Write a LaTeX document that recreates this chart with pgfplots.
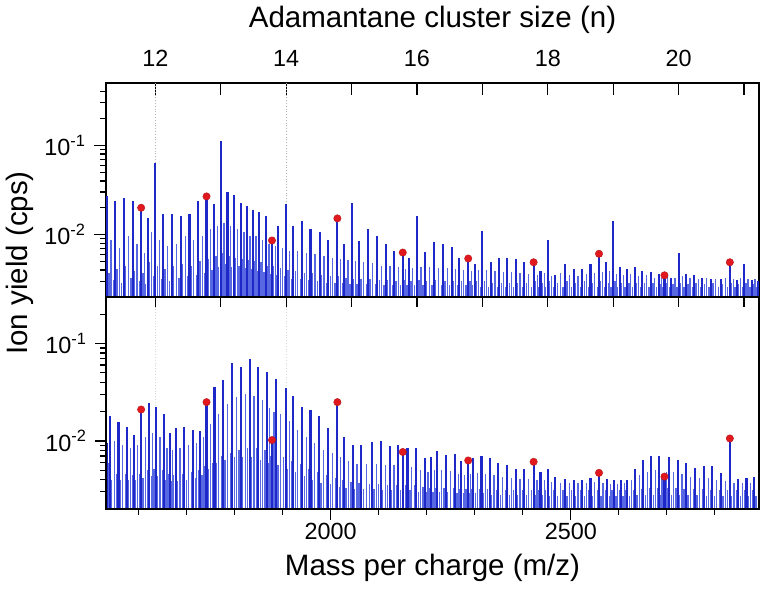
\documentclass[border=0pt]{standalone}
\usepackage{pgfplots}
\pgfplotsset{compat=1.18}
\usepackage{pgfplotstable}
\usepackage{fontspec}
\setmainfont{Liberation Sans}
\definecolor{dkblue}{RGB}{30,40,200}
\definecolor{ltblue}{RGB}{88,104,226}
\definecolor{dotred}{RGB}{225,25,30}
\newcommand{\ticksize}{\fontsize{23.4}{28}\selectfont}
\newcommand{\labsize}{\fontsize{29.5}{35}\selectfont}

% ---------- top panel ----------
\pgfplotstableread{
x y
1534 0.0268
1551 0.0239
1569 0.0258
1588 0.0239
1605.2 0.0190
1619 0.0152
1634.8 0.0642
1651 0.0171
1669 0.0171
1688 0.0162
1706 0.0171
1724 0.0239
1741.4 0.0258
1757 0.0219
1771 0.113
1785 0.0298
1798 0.0278
1813 0.0229
1826 0.0209
1838 0.0190
1851 0.0181
1865 0.0162
1877.7 0.0084
1891 0.0125
1907.2 0.0219
1922 0.0125
1941 0.0143
1958 0.0115
1977 0.0106
1995 0.0088
2013.9 0.0148
2028 0.0078
2043.5 0.0229
2059 0.0084
2078 0.0115
2097 0.0097
2115 0.0078
2132 0.0066
2150.1 0.0060
2163 0.0055
2179.7 0.0162
2196 0.0064
2215 0.0082
2234 0.0078
2252 0.0072
2268 0.0055
2286.4 0.0052
2300 0.0047
2315.9 0.0110
2333 0.0049
2351 0.0055
2368 0.0055
2385 0.0054
2403 0.0049
2422.6 0.0047
2437 0.0039
2452.1 0.0088
2468 0.0035
2488 0.0047
2506 0.0041
2524 0.0041
2541 0.0047
2558.8 0.0060
2574 0.0049
2588.4 0.0143
2602 0.0043
2617 0.0041
2633 0.0043
2649 0.0039
2667 0.0038
2683 0.0036
2695.1 0.0034
2709 0.0033
2724.6 0.0063
2740 0.0036
2757 0.0035
2774 0.0033
2792 0.0032
2812 0.0032
2831.3 0.0047
2846 0.0031
2860.8 0.0047
2877 0.0031
2890 0.0030
}\topmain

\pgfplotstableread{
x y
1538 0.0037
1542.5 0.0088
1547 0.0031
1555 0.0041
1560 0.0071
1565 0.0029
1573 0.0045
1578.5 0.0097
1584 0.0033
1592 0.0039
1596.6 0.0079
1601 0.0030
1609 0.0037
1612 0.0062
1615 0.0028
1623 0.0049
1627 0.0106
1631 0.0034
1639 0.0045
1643 0.0088
1647 0.0032
1655 0.0041
1660 0.0075
1665 0.0030
1673 0.0044
1678.5 0.0079
1684 0.0033
1692 0.0047
1697 0.0097
1702 0.0034
1710 0.0045
1715 0.0088
1720 0.0035
1728 0.0050
1733 0.0097
1737 0.0037
1745 0.0054
1749 0.0115
1753 0.0040
1761 0.0058
1764 0.0125
1767 0.0043
1775 0.0062
1778 0.0134
1781 0.0047
1789 0.0058
1791.5 0.0125
1794 0.0043
1802 0.0055
1805.5 0.0115
1809 0.0045
1817 0.0054
1819.5 0.0106
1822 0.0042
1829 0.0052
1832 0.0097
1835 0.0041
1841 0.0050
1844.5 0.0097
1848 0.0039
1855 0.0049
1858 0.0088
1861 0.0038
1869 0.0045
1871.5 0.0079
1874 0.0036
1881 0.0044
1884.5 0.0075
1888 0.0035
1895 0.0042
1899 0.0071
1903 0.0034
1911 0.0040
1914.5 0.0066
1918 0.0032
1926 0.0039
1931.5 0.0066
1937 0.0032
1945 0.0037
1949.5 0.0062
1954 0.0031
1962 0.0037
1967.5 0.0060
1973 0.0030
1981 0.0035
1986 0.0058
1991 0.0029
1999 0.0034
2004 0.0055
2009 0.0029
2017 0.0034
2021 0.0054
2025 0.0029
2032 0.0033
2036 0.0052
2040 0.0028
2047 0.0032
2051 0.0050
2055 0.0028
2063 0.0032
2068.5 0.0049
2074 0.0028
2082 0.0032
2087.5 0.0048
2093 0.0028
2101 0.0031
2106 0.0045
2111 0.0027
2119 0.0031
2123.5 0.0044
2128 0.0027
2136 0.0030
2141 0.0043
2146 0.0027
2154 0.0031
2156.5 0.0041
2159 0.0027
2167 0.0030
2171 0.0042
2175 0.0027
2184 0.0031
2188 0.0043
2192 0.0027
2200 0.0030
2205.5 0.0043
2211 0.0027
2219 0.0031
2224.5 0.0042
2230 0.0027
2238 0.0030
2243 0.0042
2248 0.0027
2256 0.0030
2260 0.0041
2264 0.0027
2272 0.0030
2277 0.0040
2282 0.0027
2290 0.0030
2293 0.0039
2296 0.0027
2304 0.0030
2308 0.0040
2312 0.0026
2320 0.0030
2324.5 0.0040
2329 0.0026
2337 0.0029
2342 0.0039
2347 0.0026
2355 0.0029
2359.5 0.0038
2364 0.0026
2372 0.0029
2376.5 0.0038
2381 0.0026
2389 0.0029
2394 0.0037
2399 0.0026
2407 0.0029
2412.5 0.0036
2418 0.0026
2426 0.0030
2430 0.0035
2434 0.0026
2441 0.0029
2444.5 0.0037
2448 0.0026
2456 0.0030
2460 0.0034
2464 0.0026
2472 0.0029
2478 0.0037
2484 0.0026
2492 0.0030
2497 0.0035
2502 0.0026
2510 0.0029
2515 0.0034
2520 0.0026
2528 0.0030
2532.5 0.0036
2537 0.0026
2545 0.0029
2550 0.0037
2555 0.0026
2562 0.0030
2566.5 0.0038
2570 0.0026
2578 0.0029
2581 0.0039
2584 0.0026
2592 0.0030
2595 0.0036
2598 0.0026
2606 0.0029
2609.5 0.0035
2613 0.0026
2621 0.0029
2625 0.0036
2629 0.0026
2637 0.0029
2641 0.0034
2645 0.0026
2653 0.0029
2658 0.0035
2663 0.0026
2671 0.0029
2675 0.0033
2679 0.0026
2687 0.0028
2689 0.0033
2691 0.0026
2699 0.0029
2702 0.0034
2705 0.0026
2713 0.0028
2717 0.0033
2721 0.0026
2728 0.0029
2732 0.0034
2736 0.0026
2744 0.0028
2748.5 0.0033
2753 0.0026
2761 0.0029
2765.5 0.0032
2770 0.0026
2778 0.0028
2783 0.0033
2788 0.0026
2796 0.0029
2802 0.0032
2808 0.0026
2816 0.0028
2821.5 0.0033
2827 0.0026
2835 0.0029
2838.5 0.0032
2842 0.0026
2850 0.0028
2853.5 0.0033
2857 0.0026
2865 0.0029
2869 0.0032
2873 0.0026
2881 0.0028
2883.5 0.0032
2886 0.0026
}\toplight

\pgfplotstableread{
x y
1605.2 0.0200
1741.4 0.0268
1877.7 0.0086
2013.9 0.0152
2150.1 0.0063
2286.4 0.0054
2422.6 0.0049
2558.8 0.0061
2695.1 0.0035
2831.3 0.0049
}\topdots

% ---------- bottom panel ----------
\pgfplotstableread{
x y
1534 0.0095
1540 0.018
1558 0.0158
1576 0.014
1590 0.0115
1605.2 0.021
1622 0.0245
1636 0.0224
1653 0.019
1665 0.012
1677 0.0135
1695 0.014
1714 0.013
1728 0.0125
1741.4 0.025
1758 0.036
1776 0.042
1795 0.063
1813 0.057
1831 0.069
1849 0.057
1867 0.051
1877.7 0.0100
1886 0.043
1906 0.035
1922 0.029
1941 0.0225
1958 0.021
1976 0.018
1995 0.0135
2013.9 0.025
2028 0.011
2046 0.0091
2063 0.0090
2086 0.0098
2104 0.010
2123 0.0089
2141 0.0091
2150.1 0.0075
2160 0.0085
2178.5 0.0084
2196 0.0066
2209 0.0068
2222 0.0078
2240 0.0072
2259 0.0074
2272 0.0062
2286.4 0.0061
2297 0.0066
2314 0.0070
2331 0.0066
2349 0.0059
2368 0.0056
2385 0.0052
2403 0.0052
2422.6 0.0059
2437 0.0048
2452 0.0051
2468 0.0043
2488 0.0041
2506 0.0040
2524 0.0040
2541 0.0042
2558.8 0.0045
2576 0.0041
2590 0.0040
2605 0.0040
2618 0.0040
2634 0.0052
2651 0.0064
2668 0.0070
2684 0.0070
2695.1 0.0042
2705 0.0069
2723 0.0064
2740 0.0060
2759 0.0053
2778 0.0055
2795 0.0055
2813 0.0047
2831.3 0.0104
2849 0.0041
2866 0.0042
2882 0.0043
}\botmain

\pgfplotstableread{
x y
1537 0.0060
1544 0.0040
1549 0.010
1554 0.0046
1562 0.0040
1567 0.0090
1572 0.0046
1579 0.0040
1583 0.0085
1587 0.0045
1594 0.0040
1597.5 0.0090
1601 0.0046
1609 0.0042
1613.5 0.011
1618 0.0050
1626 0.0044
1629 0.012
1632 0.0052
1640 0.0044
1644.5 0.011
1649 0.0050
1657 0.0040
1659 0.0085
1661 0.0046
1669 0.0039
1671 0.0080
1673 0.0045
1681 0.0039
1686 0.0085
1691 0.0046
1699 0.0040
1704.5 0.0090
1710 0.0048
1718 0.0042
1721 0.0095
1724 0.0050
1732 0.0045
1735 0.011
1738 0.0055
1745 0.0052
1749.5 0.015
1754 0.0060
1762 0.0060
1767 0.019
1772 0.0070
1780 0.0064
1785.5 0.024
1791 0.0075
1799 0.0068
1804 0.028
1809 0.0080
1817 0.0068
1822 0.030
1827 0.0085
1835 0.0068
1840 0.029
1845 0.0085
1853 0.0064
1858 0.026
1863 0.0080
1870 0.0060
1872.5 0.022
1875 0.0070
1880 0.0058
1882 0.020
1884 0.0070
1890 0.0056
1896 0.019
1902 0.0068
1910 0.0052
1914 0.016
1918 0.0062
1926 0.0048
1931.5 0.013
1937 0.0058
1945 0.0044
1949.5 0.011
1954 0.0052
1962 0.0040
1967 0.0095
1972 0.0048
1980 0.0037
1985.5 0.0080
1991 0.0045
1999 0.0036
2004.5 0.0075
2010 0.0042
2018 0.0034
2021 0.0068
2024 0.0040
2032 0.0033
2037 0.0062
2042 0.0038
2050 0.0032
2054.5 0.0058
2059 0.0037
2068 0.0032
2074.5 0.0058
2081 0.0036
2090 0.0032
2095 0.0058
2100 0.0036
2108 0.0031
2113.5 0.0056
2119 0.0035
2127 0.0031
2132 0.0056
2137 0.0035
2145 0.0031
2155 0.0035
2165 0.0031
2169 0.0054
2174 0.0035
2183 0.0030
2187 0.0050
2192 0.0034
2200 0.0030
2202.5 0.0048
2205 0.0033
2213 0.0030
2215.5 0.0050
2218 0.0033
2226 0.0030
2231 0.0050
2236 0.0033
2244 0.0030
2249.5 0.0049
2255 0.0033
2263 0.0029
2265.5 0.0046
2268 0.0032
2276 0.0029
2279 0.0045
2282 0.0032
2290 0.0029
2291.5 0.0046
2293 0.0032
2301 0.0029
2305.5 0.0047
2310 0.0032
2318 0.0029
2322.5 0.0046
2327 0.0032
2335 0.0028
2340 0.0045
2345 0.0031
2353 0.0028
2358.5 0.0043
2364 0.0031
2372 0.0028
2376.5 0.0042
2381 0.0031
2389 0.0028
2394 0.0041
2399 0.0031
2407 0.0028
2412.5 0.0041
2418 0.0031
2426 0.0028
2429.5 0.0040
2433 0.0031
2441 0.0028
2444.5 0.0040
2448 0.0031
2456 0.0027
2460 0.0038
2464 0.0031
2472 0.0027
2478 0.0037
2484 0.0031
2492 0.0027
2497 0.0037
2502 0.0031
2510 0.0027
2515 0.0037
2520 0.0031
2528 0.0027
2532.5 0.0037
2537 0.0031
2545 0.0027
2550 0.0038
2555 0.0031
2563 0.0027
2567 0.0037
2572 0.0031
2580 0.0027
2583 0.0036
2586 0.0031
2594 0.0027
2597.5 0.0036
2601 0.0031
2609 0.0027
2611.5 0.0037
2614 0.0031
2622 0.0027
2626 0.0040
2630 0.0031
2638 0.0028
2642.5 0.0045
2647 0.0032
2655 0.0028
2659.5 0.0048
2664 0.0033
2672 0.0028
2676 0.0050
2680 0.0033
2688 0.0028
2690 0.0045
2692 0.0033
2699 0.0028
2700 0.0048
2702 0.0033
2709 0.0028
2714 0.0048
2719 0.0033
2727 0.0028
2731.5 0.0046
2736 0.0032
2744 0.0028
2749.5 0.0043
2755 0.0032
2763 0.0028
2768.5 0.0042
2774 0.0032
2782 0.0027
2786.5 0.0042
2791 0.0031
2799 0.0027
2804 0.0040
2809 0.0031
2817 0.0027
2822 0.0039
2827 0.0031
2835 0.0027
2840 0.0037
2845 0.0031
2853 0.0027
2857.5 0.0037
2862 0.0031
2870 0.0027
2874 0.0037
2878 0.0031
2886 0.0027
}\botlight

\pgfplotstableread{
x y
1605.2 0.021
1741.4 0.025
1877.7 0.0102
2013.9 0.025
2150.1 0.0077
2286.4 0.0063
2422.6 0.0061
2558.8 0.0047
2695.1 0.0043
2831.3 0.0106
}\botdots

\begin{document}
\begin{tikzpicture}
\useasboundingbox (0,0) rectangle (764pt,-594pt);

% top panel
\begin{axis}[
  scale only axis,
  width=653pt, height=214pt,
  at={(106pt,-297pt)}, anchor=south west,
  xmin=1532, xmax=2892,
  ymode=log,
  log origin y=infty,
  ymin=0.002, ymax=0.5,
  axis line style={line width=1.5pt},
  major tick length=12pt,
  minor tick length=6pt,
  tick style={line width=1.3pt, black},
  tick label style={font=\ticksize},
  ytick={0.01,0.1},
  yticklabels={10\textsuperscript{-2},10\textsuperscript{-1}},
  yticklabel style={xshift=-5pt},
  minor ytick={0.003,0.004,0.005,0.006,0.007,0.008,0.009,0.02,0.03,0.04,0.05,0.06,0.07,0.08,0.09,0.2,0.3,0.4},
  ytick pos=left,
  ytick align=outside,
  xtick={1634.76,1770.99,1907.22,2043.45,2179.68,2315.91,2452.14,2588.37,2724.6,2860.83},
  xticklabels={12,,14,,16,,18,,20,},
  xticklabel style={yshift=13pt},
  xtick pos=right, xticklabel pos=right,
  xtick align=inside,
]
\addplot[black!30, dotted, line width=0.8pt] coordinates {(1634.76,0.002) (1634.76,0.5)};
\addplot[black!30, dotted, line width=0.8pt] coordinates {(1907.22,0.002) (1907.22,0.5)};
\addplot[ycomb, no markers, ltblue, line width=1.25pt] table {\toplight};
\addplot[ycomb, no markers, dkblue, line width=2.1pt] table {\topmain};
\addplot[only marks, mark=*, mark size=3.7pt, mark options={fill=dotred, draw=dotred!80!black, line width=0.4pt}] table {\topdots};
\end{axis}

% bottom panel
\begin{axis}[
  scale only axis,
  width=653pt, height=212pt,
  at={(106pt,-509pt)}, anchor=south west,
  xmin=1532, xmax=2892,
  ymode=log,
  log origin y=infty,
  ymin=0.0020, ymax=0.30,
  axis line style={line width=1.5pt},
  major tick length=11pt,
  minor tick length=6pt,
  tick style={line width=1.3pt, black},
  tick label style={font=\ticksize},
  ytick={0.01,0.1},
  yticklabels={10\textsuperscript{-2},10\textsuperscript{-1}},
  yticklabel style={xshift=-5pt},
  minor ytick={0.003,0.004,0.005,0.006,0.007,0.008,0.009,0.02,0.03,0.04,0.05,0.06,0.07,0.08,0.09,0.2},
  ytick pos=left,
  ytick align=outside,
  xtick={2000,2500},
  xticklabels={2000,2500},
  minor xtick={1600,1700,1800,1900,2100,2200,2300,2400,2600,2700,2800},
  xtick pos=left, xticklabel pos=left,
  xtick align=outside,
]
\addplot[black!15, dotted, line width=0.8pt] coordinates {(1634.76,0.002) (1634.76,0.30)};
\addplot[black!15, dotted, line width=0.8pt] coordinates {(1907.22,0.002) (1907.22,0.30)};
\addplot[ycomb, no markers, ltblue, line width=1.25pt] table {\botlight};
\addplot[ycomb, no markers, dkblue, line width=2.1pt] table {\botmain};
\addplot[only marks, mark=*, mark size=3.7pt, mark options={fill=dotred, draw=dotred!80!black, line width=0.4pt}] table {\botdots};
\end{axis}

% cluster-size ticks on top edge of bottom panel
\begin{axis}[
  scale only axis, width=653pt, height=212pt,
  at={(106pt,-509pt)}, anchor=south west,
  xmin=1532, xmax=2892, ymin=0, ymax=1,
  axis line style={line width=1.5pt},
  tick style={line width=1.3pt, black},
  major tick length=10pt,
  xtick={1634.76,1770.99,1907.22,2043.45,2179.68,2315.91,2452.14,2588.37,2724.6,2860.83},
  xticklabels={},
  xtick pos=right, xtick align=inside,
  ytick=\empty,
]
\end{axis}

\node[font=\labsize] at (432.5pt,-20pt) {Adamantane cluster size (n)};
\node[font=\labsize] at (432.5pt,-568pt) {Mass per charge (m/z)};
\node[font=\labsize, rotate=90] at (20pt,-263pt) {Ion yield (cps)};
\end{tikzpicture}
\end{document}
